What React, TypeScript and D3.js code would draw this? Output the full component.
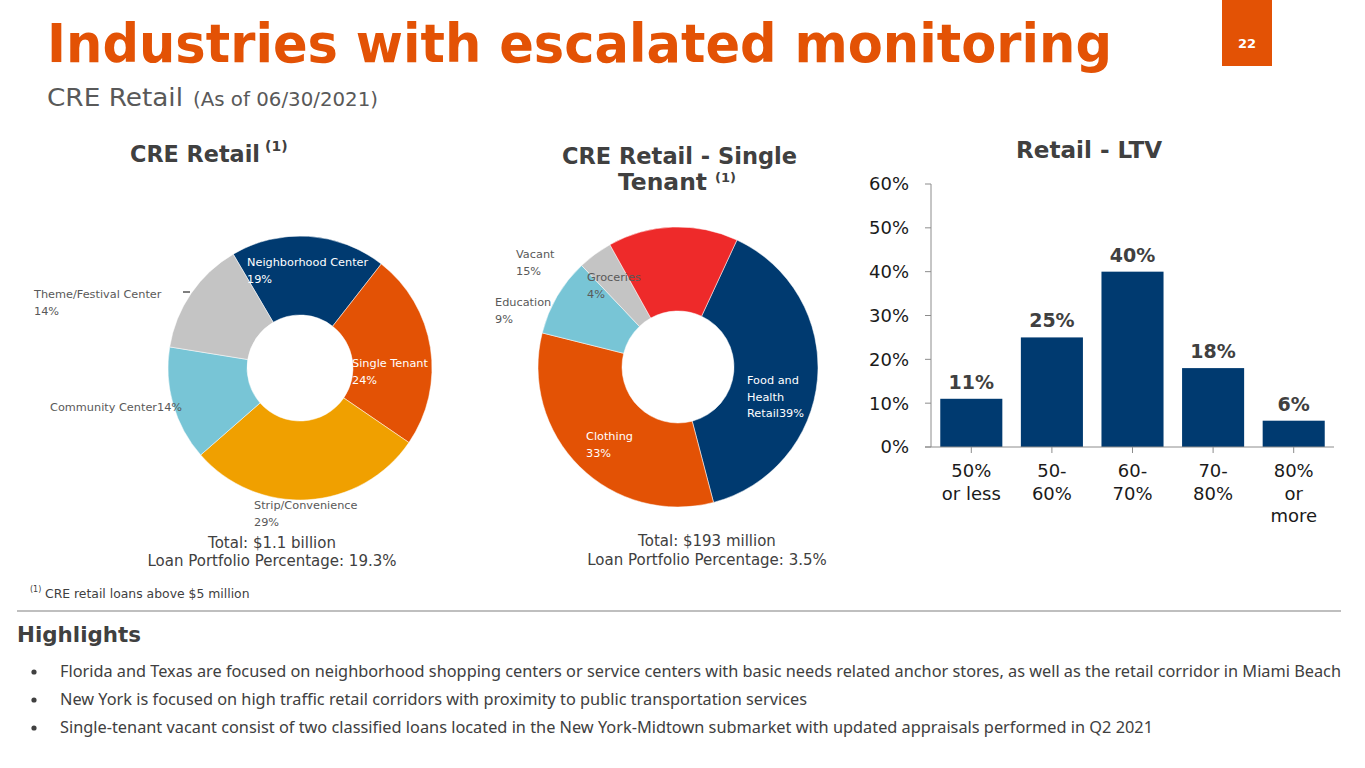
import * as d3 from 'd3'

// ---- data ----
const retailCategories = ['Neighborhood Center', 'Single Tenant', 'Strip/Convenience', 'Community Center', 'Theme/Festival Center']
const retailShares = [19, 24, 29, 14, 14]
const retailColors = ['#003A70', '#E35205', '#F0A000', '#78C5D6', '#C4C4C4']

const tenantCategories = ['Food and Health Retail', 'Clothing', 'Education', 'Groceries', 'Vacant']
const tenantShares = [39, 33, 9, 4, 15]
const tenantColors = ['#003A70', '#E35205', '#78C5D6', '#C4C4C4', '#EE2A2A']

const ltvCategories = ['50% or less', '50-60%', '60-70%', '70-80%', '80% or more']
const ltvLabelLines = [['50%', 'or less'], ['50-', '60%'], ['60-', '70%'], ['70-', '80%'], ['80%', 'or', 'more']]
const ltvValues = [0.11, 0.25, 0.40, 0.18, 0.06]
const ltvTicks = [0, 0.1, 0.2, 0.3, 0.4, 0.5, 0.6]

const highlights = [
  'Florida and Texas are focused on neighborhood shopping centers or service centers with basic needs related anchor stores, as well as the retail corridor in Miami Beach',
  'New York is focused on high traffic retail corridors with proximity to public transportation services',
  'Single-tenant vacant consist of two classified loans located in the New York-Midtown submarket with updated appraisals performed in Q2 2021',
]
const highlightWidths = [1281, 747, 1093]

// label layout (text block position, lines, colour)
const retailLabels = [
  { x: 247, y: 266, lines: ['Neighborhood Center', '19%'], fill: '#fff' },
  { x: 352, y: 367, lines: ['Single Tenant', '24%'], fill: '#fff' },
  { x: 254, y: 509, lines: ['Strip/Convenience', '29%'], fill: '#595959' },
  { x: 50, y: 411, lines: ['Community Center14%'], fill: '#595959' },
  { x: 34, y: 298, lines: ['Theme/Festival Center', '14%'], fill: '#595959' },
]
const tenantLabels = [
  { x: 747, y: 384, lines: ['Food and', 'Health', 'Retail39%'], fill: '#fff' },
  { x: 586, y: 440, lines: ['Clothing', '33%'], fill: '#fff' },
  { x: 495, y: 306, lines: ['Education', '9%'], fill: '#595959' },
  { x: 587, y: 281, lines: ['Groceries', '4%'], fill: '#595959' },
  { x: 516, y: 258, lines: ['Vacant', '15%'], fill: '#595959' },
]

const FONT = '"DejaVu Sans", Verdana, sans-serif'
const deg = Math.PI / 180

function Donut({ cx, cy, outer, inner, start, values, colors, names }: {
  cx: number; cy: number; outer: number; inner: number; start: number
  values: number[]; colors: string[]; names: string[]
}) {
  const pie = d3.pie<number>().sort(null).startAngle(start * deg).endAngle(start * deg + 2 * Math.PI)
  const arc = d3.arc<d3.PieArcDatum<number>>().innerRadius(inner).outerRadius(outer)
  const arcs = pie(values)
  return (
    <g transform={`translate(${cx},${cy})`}>
      {arcs.map((a, i) => (
        <path key={names[i]} d={arc(a) || ''} fill={colors[i]} stroke="#fff" strokeWidth={0.5} />
      ))}
    </g>
  )
}

function Labels({ items, size = 11.3 }: { items: { x: number; y: number; lines: string[]; fill: string }[]; size?: number }) {
  return (
    <g fontFamily={FONT} fontSize={size}>
      {items.map((l, i) => (
        <text key={i} x={l.x} y={l.y} fill={l.fill}>
          {l.lines.map((s, j) => (
            <tspan key={j} x={l.x} dy={j === 0 ? 0 : 16.5}>{s}</tspan>
          ))}
        </text>
      ))}
    </g>
  )
}

function LtvChart() {
  const x = d3.scaleBand<string>().domain(ltvCategories).range([931, 1334]).paddingInner(0.23).paddingOuter(0.115)
  const y = d3.scaleLinear().domain([0, 0.6]).range([447, 184])
  const fmt = d3.format('.0%')
  return (
    <g fontFamily={FONT}>
      <line x1={931} x2={931} y1={y(0.6)} y2={y(0)} stroke="#8C8C8C" />
      {ltvTicks.map(t => (
        <g key={t}>
          <line x1={925} x2={931} y1={y(t)} y2={y(t)} stroke="#8C8C8C" />
          <text x={909} y={y(t)} dy="0.36em" textAnchor="end" fontSize={18} fill="#1a1a1a">{fmt(t)}</text>
        </g>
      ))}
      {ltvCategories.map((c, i) => (
        <g key={c}>
          <rect x={x(c)} y={y(ltvValues[i])} width={x.bandwidth()} height={y(0) - y(ltvValues[i])} fill="#003A70" />
          <text x={x(c)! + x.bandwidth() / 2} y={y(ltvValues[i]) - 10} textAnchor="middle" fontSize={19} fontWeight="bold" fill="#404040">
            {fmt(ltvValues[i])}
          </text>
          <line x1={x(c)! + x.bandwidth() / 2} x2={x(c)! + x.bandwidth() / 2} y1={y(0)} y2={y(0) + 6} stroke="#8C8C8C" />
          <text textAnchor="middle" fontSize={18} fill="#1a1a1a">
            {ltvLabelLines[i].map((s, j) => (
              <tspan key={j} x={x(c)! + x.bandwidth() / 2} y={477 + j * 22.5}>{s}</tspan>
            ))}
          </text>
        </g>
      ))}
      <line x1={925} x2={1334} y1={y(0)} y2={y(0)} stroke="#8C8C8C" />
      <text x={1016} y={158} fontSize={22.5} fontWeight="bold" fill="#404040"
        textLength={146} lengthAdjust="spacingAndGlyphs">Retail - LTV</text>
    </g>
  )
}

export default function App() {
  return (
    <div style={{ position: 'absolute', left: 0, top: 0, width: 1365, height: 768, background: '#fff' }}>
      <svg width={1365} height={768} viewBox="0 0 1365 768">
        <rect width={1365} height={768} fill="#fff" />
        {/* header */}
        <text x={47} y={62} fontFamily={FONT} fontWeight="bold" fontSize={54} fill="#E35205"
          textLength={1065} lengthAdjust="spacingAndGlyphs">Industries with escalated monitoring</text>
        <text x={47} y={106} fontFamily={FONT} fill="#595959" fontSize={25} textLength={136} lengthAdjust="spacingAndGlyphs">CRE Retail</text>
        <text x={193} y={106} fontFamily={FONT} fill="#595959" fontSize={19.5} textLength={185} lengthAdjust="spacingAndGlyphs">(As of 06/30/2021)</text>
        <rect x={1222} y={0} width={50} height={66} fill="#E35205" />
        <text x={1247} y={48} textAnchor="middle" fontFamily={FONT} fontWeight="bold" fontSize={13} fill="#fff">22</text>

        {/* chart titles */}
        <g fontFamily={FONT} fontWeight="bold" fill="#404040">
          <text x={130} y={162} fontSize={22.5} textLength={130} lengthAdjust="spacingAndGlyphs">CRE Retail</text>
          <text x={265} y={151} fontSize={14}>(1)</text>
          <text x={562} y={164} fontSize={22.5} textLength={235} lengthAdjust="spacingAndGlyphs">CRE Retail - Single</text>
          <text x={618} y={190} fontSize={22.5} textLength={89} lengthAdjust="spacingAndGlyphs">Tenant</text>
          <text x={715} y={182} fontSize={13}>(1)</text>
        </g>

        {/* donuts */}
        <Donut cx={300} cy={368} outer={132} inner={53} start={-30.4}
          values={retailShares} colors={retailColors} names={retailCategories} />
        <line x1={183} x2={190} y1={292} y2={292} stroke="#000" />
        <Labels items={retailLabels} />
        <Donut cx={678} cy={367} outer={140} inner={56} start={24.9}
          values={tenantShares} colors={tenantColors} names={tenantCategories} />
        <Labels items={tenantLabels} />

        {/* totals */}
        <g fontFamily={FONT} fontSize={15} fill="#404040" textAnchor="middle">
          <text x={272} y={548}>Total: $1.1 billion</text>
          <text x={272} y={566}>Loan Portfolio Percentage: 19.3%</text>
          <text x={707} y={546}>Total: $193 million</text>
          <text x={707} y={565}>Loan Portfolio Percentage: 3.5%</text>
        </g>

        <LtvChart />

        {/* footnote */}
        <g fontFamily={FONT} fill="#404040">
          <text x={30} y={592} fontSize={8}>(1)</text>
          <text x={45} y={598} fontSize={12.4}>CRE retail loans above $5 million</text>
        </g>

        <line x1={17} x2={1341} y1={611} y2={611} stroke="#BFBFBF" strokeWidth={2} />

        {/* highlights */}
        <text x={17} y={642} fontFamily={FONT} fontWeight="bold" fontSize={21} fill="#404040"
          textLength={124} lengthAdjust="spacingAndGlyphs">Highlights</text>
        <g fontFamily='"Noto Sans", sans-serif' fontSize={15.5} fill="#404040">
          {highlights.map((h, i) => (
            <g key={i}>
              <circle cx={34} cy={672 + i * 28} r={2.6} fill="#404040" />
              <text x={60} y={677 + i * 28} textLength={highlightWidths[i]} lengthAdjust="spacingAndGlyphs">{h}</text>
            </g>
          ))}
        </g>
      </svg>
    </div>
  )
}
